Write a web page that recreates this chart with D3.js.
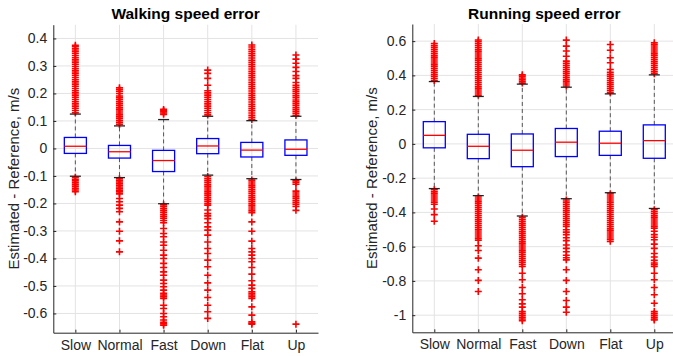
<!DOCTYPE html>
<html>
<head>
<meta charset="utf-8">
<script src="https://cdn.jsdelivr.net/npm/d3@7"></script>
<style>
  body { margin: 0; background: #fff; }
  svg { display: block; }
</style>
</head>
<body>
<div id="vis"></div>
<script>
// speed error boxplots (walking / running)

const categories = ["Slow", "Normal", "Fast", "Down", "Flat", "Up"]

// walking
const walkQ1 = [-0.018, -0.035, -0.084, -0.019, -0.031, -0.025]
const walkMed = [0.008, -0.012, -0.044, 0.009, -0.006, -0.003]
const walkQ3 = [0.040, 0.011, -0.007, 0.036, 0.022, 0.031]
const walkLo = [-0.101, -0.106, -0.201, -0.097, -0.110, -0.113]
const walkHi = [0.125, 0.082, 0.105, 0.117, 0.101, 0.117]
const walkOutliers = [
  [0.130, 0.138, 0.146, 0.154, 0.162, 0.170, 0.178, 0.186, 0.194, 0.202, 0.210, 0.218, 0.226, 0.234, 0.242, 0.250,
   0.258, 0.266, 0.274, 0.282, 0.290, 0.298, 0.306, 0.314, 0.322, 0.330, 0.338, 0.346, 0.354, 0.362, 0.370, 0.375,
   -0.105, -0.112, -0.118, -0.125, -0.132, -0.138, -0.145, -0.151, -0.157],
  [0.087, 0.094, 0.101, 0.108, 0.115, 0.122, 0.129, 0.136, 0.143, 0.150, 0.157, 0.164, 0.171, 0.178, 0.185, 0.191,
   0.200, 0.208, 0.215, 0.221,
   -0.110, -0.116, -0.122, -0.128, -0.134, -0.140, -0.146, -0.152, -0.158, -0.165, -0.182, -0.194, -0.206, -0.218,
   -0.230, -0.267, -0.301, -0.336, -0.376],
  [0.124, 0.129, 0.134, 0.138, 0.142,
   -0.205, -0.212, -0.219, -0.226, -0.233, -0.240, -0.247, -0.254, -0.262, -0.270, -0.291, -0.309, -0.321, -0.340,
   -0.352, -0.370, -0.388, -0.400, -0.418, -0.433, -0.449, -0.461, -0.479, -0.491, -0.503, -0.515, -0.527, -0.533,
   -0.539, -0.545, -0.570, -0.582, -0.600, -0.612, -0.624, -0.632, -0.638, -0.643],
  [0.122, 0.130, 0.138, 0.146, 0.154, 0.162, 0.170, 0.178, 0.186, 0.194, 0.202, 0.210, 0.230, 0.255, 0.273, 0.285,
   -0.102, -0.109, -0.116, -0.123, -0.130, -0.137, -0.144, -0.151, -0.158, -0.165, -0.172, -0.179, -0.186, -0.193,
   -0.200, -0.206, -0.224, -0.237, -0.245, -0.255, -0.270, -0.285, -0.297, -0.315, -0.340, -0.364, -0.382, -0.406,
   -0.430, -0.461, -0.489, -0.515, -0.542, -0.570, -0.594, -0.618],
  [0.105, 0.113, 0.121, 0.129, 0.137, 0.145, 0.153, 0.161, 0.169, 0.177, 0.185, 0.193, 0.201, 0.209, 0.217, 0.225,
   0.233, 0.241, 0.249, 0.257, 0.265, 0.273, 0.281, 0.289, 0.297, 0.305, 0.313, 0.321, 0.329, 0.337, 0.345, 0.353,
   0.361, 0.369, 0.376,
   -0.115, -0.122, -0.129, -0.136, -0.143, -0.150, -0.157, -0.164, -0.171, -0.178, -0.185, -0.192, -0.199, -0.206,
   -0.213, -0.220, -0.227, -0.234, -0.267, -0.301, -0.337, -0.364, -0.376, -0.388, -0.400, -0.412, -0.433, -0.457,
   -0.481, -0.497, -0.509, -0.521, -0.527, -0.533, -0.539, -0.545, -0.576, -0.606, -0.630, -0.635, -0.639],
  [0.121, 0.128, 0.135, 0.142, 0.149, 0.156, 0.163, 0.170, 0.176, 0.185, 0.192, 0.200, 0.207, 0.214, 0.222, 0.230,
   0.240, 0.255, 0.265, 0.280, 0.295, 0.310, 0.325, 0.340,
   -0.118, -0.124, -0.130, -0.155, -0.162, -0.169, -0.176, -0.183, -0.190, -0.197, -0.204, -0.211, -0.225, -0.639]
]
const walkTicks = [0.4, 0.3, 0.2, 0.1, 0, -0.1, -0.2, -0.3, -0.4, -0.5, -0.6]

// running
const runQ1 = [-0.023, -0.086, -0.133, -0.074, -0.067, -0.084]
const runMed = [0.050, -0.014, -0.037, 0.010, 0.004, 0.019]
const runQ3 = [0.130, 0.056, 0.058, 0.090, 0.074, 0.111]
const runLo = [-0.261, -0.302, -0.421, -0.320, -0.285, -0.377]
const runHi = [0.364, 0.277, 0.349, 0.331, 0.292, 0.403]
const runOutliers = [
  [0.370, 0.382, 0.394, 0.406, 0.418, 0.430, 0.442, 0.454, 0.466, 0.478, 0.490, 0.502, 0.514, 0.526, 0.538, 0.550,
   0.562, 0.574, 0.586,
   -0.268, -0.280, -0.292, -0.304, -0.316, -0.328, -0.340, -0.352, -0.380, -0.413, -0.452],
  [0.285, 0.297, 0.309, 0.321, 0.333, 0.345, 0.357, 0.369, 0.381, 0.393, 0.405, 0.417, 0.429, 0.441, 0.453, 0.465,
   0.477, 0.489, 0.501, 0.513, 0.525, 0.537, 0.549, 0.561, 0.573, 0.585, 0.597, 0.607,
   -0.310, -0.322, -0.334, -0.346, -0.358, -0.370, -0.382, -0.394, -0.406, -0.418, -0.430, -0.442, -0.454, -0.466,
   -0.478, -0.490, -0.502, -0.514, -0.526, -0.538, -0.550, -0.562, -0.595, -0.622, -0.667, -0.735, -0.797, -0.862],
  [0.355, 0.365, 0.375, 0.385, 0.395, 0.403,
   -0.428, -0.440, -0.452, -0.464, -0.476, -0.488, -0.500, -0.512, -0.524, -0.536, -0.548, -0.560, -0.572, -0.584,
   -0.596, -0.608, -0.620, -0.632, -0.644, -0.656, -0.668, -0.680, -0.692, -0.704, -0.716, -0.755, -0.793, -0.838,
   -0.875, -0.910, -0.934, -0.953, -0.979, -0.990, -1.001, -1.012, -1.022, -1.032],
  [0.338, 0.350, 0.362, 0.374, 0.386, 0.398, 0.410, 0.422, 0.434, 0.446, 0.458, 0.470, 0.483, 0.512, 0.542, 0.571,
   0.606,
   -0.328, -0.340, -0.352, -0.364, -0.376, -0.388, -0.400, -0.412, -0.424, -0.436, -0.448, -0.460, -0.472, -0.482,
   -0.501, -0.515, -0.530, -0.548, -0.565, -0.590, -0.610, -0.630, -0.650, -0.665, -0.677, -0.735, -0.797, -0.862,
   -0.914, -0.953, -0.983],
  [0.298, 0.310, 0.322, 0.334, 0.346, 0.358, 0.370, 0.382, 0.394, 0.406, 0.418, 0.434, 0.474, 0.503, 0.547, 0.580,
   -0.292, -0.304, -0.316, -0.328, -0.340, -0.352, -0.364, -0.376, -0.388, -0.400, -0.412, -0.424, -0.436, -0.448,
   -0.460, -0.472, -0.484, -0.496, -0.508, -0.520, -0.532, -0.544, -0.556, -0.569],
  [0.410, 0.422, 0.434, 0.446, 0.458, 0.470, 0.482, 0.494, 0.506, 0.518, 0.530, 0.542, 0.554, 0.566, 0.578, 0.590,
   -0.384, -0.396, -0.408, -0.420, -0.432, -0.444, -0.456, -0.468, -0.480, -0.492, -0.510, -0.530, -0.545, -0.560,
   -0.585, -0.610, -0.640, -0.660, -0.680, -0.695, -0.705, -0.716, -0.755, -0.793, -0.838, -0.881, -0.930, -0.979,
   -0.990, -1.001, -1.012, -1.022, -1.028]
]
const runTicks = [0.6, 0.4, 0.2, 0, -0.2, -0.4, -0.6, -0.8, -1]

const font = '"Liberation Sans", Arial, Helvetica, sans-serif'
const textCol = '#262626'

let svg = d3.select('#vis')
  .append('svg')
  .attr('width', 673)
  .attr('height', 356)
  .style('font-family', font)

function drawPanel(p) {
  const x = d3.scaleLinear().domain([0.5, 6.5]).range([p.left, p.right])
  const y = d3.scaleLinear().domain(p.ylim).range([p.bottom, p.top])
  const pos = categories.map((c, i) => i + 1)
  const g = svg.append('g')

  // grid
  g.append('g').selectAll('line')
    .data(p.ticks)
    .enter()
    .append('line')
    .attr('x1', p.left).attr('x2', p.right)
    .attr('y1', d => y(d)).attr('y2', d => y(d))
    .attr('stroke', '#e3e3e3')
  g.append('g').selectAll('line')
    .data(pos)
    .enter()
    .append('line')
    .attr('x1', d => x(d)).attr('x2', d => x(d))
    .attr('y1', p.top).attr('y2', p.bottom)
    .attr('stroke', '#e3e3e3')

  const rows = categories.map((c, i) => ({
    i: i + 1, q1: p.q1[i], med: p.med[i], q3: p.q3[i], lo: p.lo[i], hi: p.hi[i], out: p.out[i]
  }))
  const bw = x(1.25) - x(1) // half box width
  const cw = x(1.125) - x(1) // half cap width

  const box = g.append('g').selectAll('g')
    .data(rows)
    .enter()
    .append('g')

  // whiskers
  box.append('line')
    .attr('x1', d => x(d.i)).attr('x2', d => x(d.i))
    .attr('y1', d => y(d.q3)).attr('y2', d => y(d.hi))
    .attr('stroke', '#555').attr('stroke-dasharray', '4,3')
  box.append('line')
    .attr('x1', d => x(d.i)).attr('x2', d => x(d.i))
    .attr('y1', d => y(d.q1)).attr('y2', d => y(d.lo))
    .attr('stroke', '#555').attr('stroke-dasharray', '4,3')

  // outliers
  box.selectAll('path')
    .data(d => d.out.map(v => ({ i: d.i, v: v })))
    .enter()
    .append('path')
    .attr('d', 'M-3.5,0H3.5M0,-3.5V3.5')
    .attr('transform', d => `translate(${x(d.i)},${y(d.v)})`)
    .attr('stroke', '#ff0000')
    .attr('stroke-width', 1.6)
    .attr('fill', 'none')

  // caps
  box.append('line')
    .attr('x1', d => x(d.i) - cw).attr('x2', d => x(d.i) + cw)
    .attr('y1', d => y(d.hi)).attr('y2', d => y(d.hi))
    .attr('stroke', '#222').attr('stroke-width', 1.3)
  box.append('line')
    .attr('x1', d => x(d.i) - cw).attr('x2', d => x(d.i) + cw)
    .attr('y1', d => y(d.lo)).attr('y2', d => y(d.lo))
    .attr('stroke', '#222').attr('stroke-width', 1.3)

  // box + median
  box.append('rect')
    .attr('x', d => x(d.i) - bw)
    .attr('width', bw * 2)
    .attr('y', d => y(d.q3))
    .attr('height', d => y(d.q1) - y(d.q3))
    .attr('fill', 'none')
    .attr('stroke', '#0000ff')
    .attr('stroke-width', 1.3)
  box.append('line')
    .attr('x1', d => x(d.i) - bw).attr('x2', d => x(d.i) + bw)
    .attr('y1', d => y(d.med)).attr('y2', d => y(d.med))
    .attr('stroke', '#ff0000').attr('stroke-width', 1.3)

  // axes
  const yAxis = d3.axisLeft(y)
    .tickValues(p.ticks)
    .tickFormat(d => String(d))
    .tickSizeInner(-3)
    .tickSizeOuter(0)
    .tickPadding(6)
  const xAxis = d3.axisBottom(x)
    .tickValues(pos)
    .tickFormat((d, i) => categories[i])
    .tickSizeInner(-3)
    .tickSizeOuter(0)
    .tickPadding(7)

  const ya = g.append('g')
    .attr('transform', `translate(${p.left},0)`)
    .call(yAxis)
  const xa = g.append('g')
    .attr('transform', `translate(0,${p.bottom})`)
    .call(xAxis)
  ;[ya, xa].forEach(a => {
    a.attr('font-family', font).attr('font-size', 14)
    a.select('.domain').attr('stroke', textCol)
    a.selectAll('.tick line').attr('stroke', textCol)
    a.selectAll('.tick text').attr('fill', textCol)
  })

  // title + y label
  g.append('text')
    .attr('x', (p.left + p.right) / 2)
    .attr('y', 19)
    .attr('text-anchor', 'middle')
    .attr('font-weight', 'bold')
    .attr('font-size', 15.5)
    .attr('fill', '#000')
    .text(p.title)
  g.append('text')
    .attr('transform', `translate(${p.labelX},${(p.top + p.bottom) / 2}) rotate(-90)`)
    .attr('text-anchor', 'middle')
    .attr('font-size', 15)
    .attr('fill', textCol)
    .text('Estimated - Reference, m/s')
}

drawPanel({
  left: 53.3, right: 318, top: 24.7, bottom: 332.7,
  ylim: [-0.67, 0.45], ticks: walkTicks,
  q1: walkQ1, med: walkMed, q3: walkQ3, lo: walkLo, hi: walkHi, out: walkOutliers,
  title: 'Walking speed error', labelX: 19
})

drawPanel({
  left: 412.3, right: 676.3, top: 24, bottom: 332.3,
  ylim: [-1.1, 0.7], ticks: runTicks,
  q1: runQ1, med: runMed, q3: runQ3, lo: runLo, hi: runHi, out: runOutliers,
  title: 'Running speed error', labelX: 377
})
</script>
</body>
</html>
